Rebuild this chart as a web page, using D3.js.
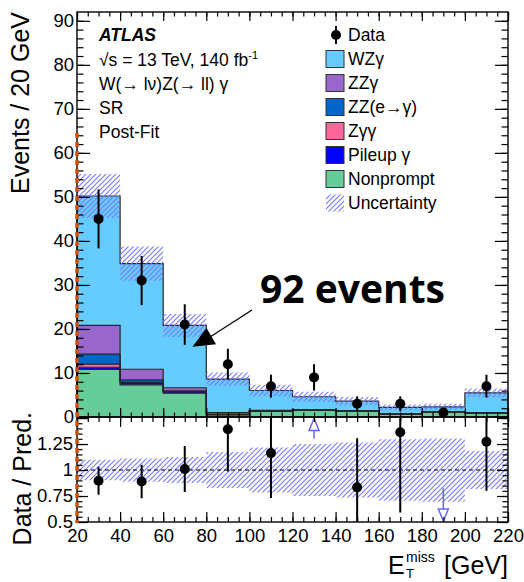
<!DOCTYPE html>
<html>
<head>
<meta charset="utf-8">
<script src="https://cdn.jsdelivr.net/npm/d3@7"></script>
<style>
  body { margin: 0; background: #ffffff; }
  svg { display: block; font-family: "Liberation Sans", Arial, sans-serif; }
</style>
</head>
<body>
<svg id="chart" width="524" height="582"></svg>
<script>
// bins of E_T^miss [GeV]
const binEdges = [20, 40, 60, 80, 100, 120, 140, 160, 180, 200, 220];

// post-fit predictions per bin (events)
const nonprompt = [10.8, 7.3, 5.4, 0.45, 1.3, 1.55, 1.35, 0.6, 1.15, 0.9];
const pileup    = [0.5, 0.5, 0.3, 0.1, 0.05, 0.02, 0.02, 0.02, 0.02, 0.02];
const zgg       = [0.7, 0.05, 0.05, 0.02, 0.02, 0.02, 0.01, 0.01, 0.01, 0.01];
const zze       = [2.3, 0.6, 0.2, 0.1, 0.05, 0.03, 0.03, 0.03, 0.03, 0.03];
const zzg       = [6.5, 2.4, 0.7, 0.35, 0.1, 0.08, 0.05, 0.04, 0.04, 0.04];
const wzg       = [29.4, 24.0, 14.15, 7.6, 4.5, 2.9, 2.14, 1.5, 1.05, 4.5];
const uncertainty = [5, 3.9, 2.6, 1.5, 1.3, 1.15, 0.95, 0.65, 0.7, 1.0];

// observed data
const dataCounts = [45, 31, 21, 12, 7, 9, 3, 3, 1, 7];
const dataErrors = [6.7, 5.6, 4.6, 3.5, 2.6, 3.0, 1.7, 1.7, 0.9, 2.6];

const stackKeys = ["Nonprompt", "Pileup γ", "Zγγ", "ZZ(e→γ)", "ZZγ", "WZγ"];
const legendKeys = ["WZγ", "ZZγ", "ZZ(e→γ)", "Zγγ", "Pileup γ", "Nonprompt"];
const colors = {
    "WZγ": "#66ccff",
    "ZZγ": "#9966cc",
    "ZZ(e→γ)": "#0066cc",
    "Zγγ": "#ff6699",
    "Pileup γ": "#0000ff",
    "Nonprompt": "#66cc99"
};

const xTicks = d3.range(20, 221, 20);
const yTicks = d3.range(0, 91, 10);
const ratioTicks = [0.5, 0.75, 1, 1.25];

const svg = d3.select("#chart");
const mainTop = 12, mainBottom = 417, ratioBottom = 522;
const left = 77, right = 508;

const x = d3.scaleLinear().domain([20, 220]).range([left, right]);
const y = d3.scaleLinear().domain([0, 92]).range([mainBottom, mainTop]);
const yr = d3.scaleLinear().domain([0.5, 1.51]).range([ratioBottom, mainBottom]);

const rows = binEdges.slice(0, -1).map((lo, i) => ({
    lo, hi: binEdges[i + 1],
    "Nonprompt": nonprompt[i],
    "Pileup γ": pileup[i],
    "Zγγ": zgg[i],
    "ZZ(e→γ)": zze[i],
    "ZZγ": zzg[i],
    "WZγ": wzg[i]
}));
const totals = rows.map(r => d3.sum(stackKeys, k => r[k]));
const stacked = d3.stack().keys(stackKeys)(rows);

const defs = svg.append("defs");
defs.append("pattern")
    .attr("id", "hatch")
    .attr("patternUnits", "userSpaceOnUse")
    .attr("width", 5)
    .attr("height", 5)
    .append("path")
    .attr("d", "M-1,1 l2,-2 M0,5 l5,-5 M4,6 l2,-2")
    .attr("stroke", "#7878ff")
    .attr("stroke-width", 1.1);
defs.append("clipPath").attr("id", "ratioClip")
    .append("rect")
    .attr("x", left).attr("y", mainBottom)
    .attr("width", right - left).attr("height", ratioBottom - mainBottom);

// step helpers
function stepPoints(lowFn, highFn) {
    const pts = rows.map((r, i) => ({ x: r.lo, y0: lowFn(i), y1: highFn(i) }));
    const last = pts[pts.length - 1];
    pts.push({ x: 220, y0: last.y0, y1: last.y1 });
    return pts;
}

const stepArea = (ys) => d3.area()
    .curve(d3.curveStepAfter)
    .x(d => x(d.x))
    .y0(d => ys(d.y0))
    .y1(d => ys(d.y1));

// stacked histograms
const mainGroup = svg.append("g");
stacked.forEach(layer => {
    const pts = stepPoints(i => layer[i][0], i => layer[i][1]);
    mainGroup.append("path")
        .attr("d", stepArea(y)(pts))
        .attr("fill", colors[layer.key]);
});
stacked.forEach(layer => {
    const pts = [{ x: 20, y: 0 }]
        .concat(rows.map((r, i) => ({ x: r.lo, y: layer[i][1] })))
        .concat([{ x: 220, y: layer[layer.length - 1][1] }, { x: 220, y: 0 }]);
    mainGroup.append("path")
        .attr("d", d3.line().curve(d3.curveStepAfter).x(d => x(d.x)).y(d => y(d.y))(pts))
        .attr("fill", "none")
        .attr("stroke", "#262626")
        .attr("stroke-width", 1.2);
});

// uncertainty band
mainGroup.append("path")
    .attr("d", stepArea(y)(stepPoints(i => totals[i] - uncertainty[i], i => totals[i] + uncertainty[i])))
    .attr("fill", "url(#hatch)");

// data points
const mids = rows.map(r => (r.lo + r.hi) / 2);
mainGroup.selectAll(".err")
    .data(dataCounts)
    .join("line")
    .attr("x1", (d, i) => x(mids[i]))
    .attr("x2", (d, i) => x(mids[i]))
    .attr("y1", (d, i) => y(Math.max(0, d - dataErrors[i])))
    .attr("y2", (d, i) => y(d + dataErrors[i]))
    .attr("stroke", "#000")
    .attr("stroke-width", 2);
mainGroup.selectAll(".pt")
    .data(dataCounts)
    .join("circle")
    .attr("cx", (d, i) => x(mids[i]))
    .attr("cy", d => y(d))
    .attr("r", 5)
    .attr("fill", "#000");

// ratio panel
const ratioGroup = svg.append("g").attr("clip-path", "url(#ratioClip)");
ratioGroup.append("path")
    .attr("d", stepArea(yr)(stepPoints(i => 1 - uncertainty[i] / totals[i], i => 1 + uncertainty[i] / totals[i])))
    .attr("fill", "url(#hatch)");
ratioGroup.append("line")
    .attr("x1", left).attr("x2", right)
    .attr("y1", yr(1)).attr("y2", yr(1))
    .attr("stroke", "#000")
    .attr("stroke-width", 1.2)
    .attr("stroke-dasharray", "4,3");

const ratios = dataCounts.map((d, i) => ({
    mid: mids[i],
    r: d / totals[i],
    lo: (d - dataErrors[i]) / totals[i],
    hi: (d + dataErrors[i]) / totals[i]
}));
const inRange = ratios.filter(d => d.r >= 0.5 && d.r <= 1.51);
ratioGroup.selectAll(".rerr")
    .data(inRange)
    .join("line")
    .attr("x1", d => x(d.mid)).attr("x2", d => x(d.mid))
    .attr("y1", d => yr(d.lo)).attr("y2", d => yr(d.hi))
    .attr("stroke", "#000")
    .attr("stroke-width", 2);
ratioGroup.selectAll(".rpt")
    .data(inRange)
    .join("circle")
    .attr("cx", d => x(d.mid))
    .attr("cy", d => yr(d.r))
    .attr("r", 5)
    .attr("fill", "#000");

// out-of-range arrows
ratios.filter(d => d.r > 1.51).forEach(d => {
    const cx = x(d.mid), tip = mainBottom + 1.5, base = tip + 12;
    ratioGroup.append("line").attr("x1", cx).attr("x2", cx).attr("y1", yr(d.lo)).attr("y2", base)
        .attr("stroke", "#6666ff").attr("stroke-width", 1.5);
    ratioGroup.append("path").attr("d", `M${cx},${tip}L${cx - 5},${base}L${cx + 5},${base}Z`)
        .attr("fill", "#fff").attr("stroke", "#6666ff").attr("stroke-width", 1.5);
});
ratios.filter(d => d.r < 0.5).forEach(d => {
    const cx = x(d.mid), tip = ratioBottom - 1, base = tip - 12;
    ratioGroup.append("line").attr("x1", cx).attr("x2", cx).attr("y1", yr(d.hi)).attr("y2", base)
        .attr("stroke", "#6666ff").attr("stroke-width", 1.5);
    ratioGroup.append("path").attr("d", `M${cx},${tip}L${cx - 5},${base}L${cx + 5},${base}Z`)
        .attr("fill", "#fff").attr("stroke", "#6666ff").attr("stroke-width", 1.5);
});

// frames
[[mainTop, mainBottom], [mainBottom, ratioBottom]].forEach(([t, b]) => {
    svg.append("rect")
        .attr("x", left).attr("y", t)
        .attr("width", right - left).attr("height", b - t)
        .attr("fill", "none")
        .attr("stroke", "#000")
        .attr("stroke-width", 1.4);
});

// ticks
function tickGroup(axis, tx, ty) {
    svg.append("g")
        .attr("transform", `translate(${tx},${ty})`)
        .call(axis)
        .call(g => g.select(".domain").remove())
        .call(g => g.selectAll("line").attr("stroke-width", 1.2));
}
const minorX = d3.range(20, 221, 5);
tickGroup(d3.axisBottom(x).tickValues(xTicks).tickSize(-9).tickFormat(""), 0, mainBottom);
tickGroup(d3.axisBottom(x).tickValues(minorX).tickSize(-4.5).tickFormat(""), 0, mainBottom);
tickGroup(d3.axisTop(x).tickValues(xTicks).tickSize(-9).tickFormat(""), 0, mainTop);
tickGroup(d3.axisTop(x).tickValues(minorX).tickSize(-4.5).tickFormat(""), 0, mainTop);
tickGroup(d3.axisBottom(x).tickValues(xTicks).tickSize(-10).tickFormat(""), 0, ratioBottom);
tickGroup(d3.axisBottom(x).tickValues(minorX).tickSize(-5).tickFormat(""), 0, ratioBottom);
tickGroup(d3.axisTop(x).tickValues(xTicks).tickSize(-10).tickFormat(""), 0, mainBottom);
tickGroup(d3.axisTop(x).tickValues(minorX).tickSize(-5).tickFormat(""), 0, mainBottom);

const minorY = d3.range(0, 92, 2);
tickGroup(d3.axisLeft(y).tickValues(yTicks).tickSize(-13).tickFormat(""), left, 0);
tickGroup(d3.axisLeft(y).tickValues(minorY).tickSize(-6.5).tickFormat(""), left, 0);
tickGroup(d3.axisRight(y).tickValues(yTicks).tickSize(-13).tickFormat(""), right, 0);
tickGroup(d3.axisRight(y).tickValues(minorY).tickSize(-6.5).tickFormat(""), right, 0);

const minorR = d3.range(0.5, 1.51, 0.05);
tickGroup(d3.axisLeft(yr).tickValues([0.5, 0.75, 1, 1.25, 1.5]).tickSize(-11).tickFormat(""), left, 0);
tickGroup(d3.axisLeft(yr).tickValues(minorR).tickSize(-5.5).tickFormat(""), left, 0);
tickGroup(d3.axisRight(yr).tickValues([0.5, 0.75, 1, 1.25, 1.5]).tickSize(-11).tickFormat(""), right, 0);
tickGroup(d3.axisRight(yr).tickValues(minorR).tickSize(-5.5).tickFormat(""), right, 0);

// tick labels
function labelGroup(axis, tx, ty) {
    svg.append("g")
        .attr("transform", `translate(${tx},${ty})`)
        .call(axis)
        .call(g => g.select(".domain").remove())
        .call(g => g.selectAll("line").remove())
        .call(g => g.selectAll("text").attr("fill", "#000").attr("font-size", "18.5px")
            .attr("font-family", "Liberation Sans, Arial, sans-serif"));
}
labelGroup(d3.axisLeft(y).tickValues(yTicks).tickSize(0).tickPadding(3), left, 0);
labelGroup(d3.axisLeft(yr).tickValues(ratioTicks).tickSize(0).tickPadding(4).tickFormat(d => d), left, 0);
labelGroup(d3.axisBottom(x).tickValues(xTicks).tickSize(0).tickPadding(7), 0, ratioBottom);

// axis titles
svg.append("text")
    .attr("transform", "translate(29,12) rotate(-90)")
    .attr("text-anchor", "end")
    .attr("font-size", "25px")
    .text("Events / 20 GeV");
svg.append("text")
    .attr("transform", "translate(31,412) rotate(-90)")
    .attr("text-anchor", "end")
    .attr("font-size", "25px")
    .text("Data / Pred.");
const xTitle = svg.append("g").attr("font-size", "25px");
xTitle.append("text").attr("x", 388).attr("y", 574).text("E");
xTitle.append("text").attr("x", 406).attr("y", 562).attr("font-size", "14px").text("miss");
xTitle.append("text").attr("x", 406).attr("y", 578).attr("font-size", "13px").text("T");
xTitle.append("text").attr("x", 508).attr("y", 574).attr("text-anchor", "end").text("[GeV]");

// ATLAS label block
const info = svg.append("g").attr("font-size", "17.5px").attr("fill", "#000");
info.append("text").attr("x", 99).attr("y", 41)
    .attr("font-weight", "bold").attr("font-style", "italic").text("ATLAS");
const rs = info.append("text").attr("x", 99).attr("y", 66);
rs.append("tspan").text("√s = 13 TeV, 140 fb");
rs.append("tspan").attr("dy", -7).attr("font-size", "11px").text("-1");
info.append("text").attr("x", 99).attr("y", 90).text("W(→ lν)Z(→ ll) γ");
info.append("text").attr("x", 99).attr("y", 114).text("SR");
info.append("text").attr("x", 99).attr("y", 138).text("Post-Fit");

// legend
const legend = svg.append("g").attr("font-size", "17.5px");
const rowY = i => 35 + i * 24;
legend.append("line").attr("x1", 336).attr("x2", 336).attr("y1", rowY(0) - 9).attr("y2", rowY(0) + 9)
    .attr("stroke", "#000").attr("stroke-width", 2);
legend.append("circle").attr("cx", 336).attr("cy", rowY(0)).attr("r", 5).attr("fill", "#000");
legend.append("text").attr("x", 348).attr("y", rowY(0)).attr("dy", "0.35em").text("Data");
legendKeys.forEach((k, j) => {
    const i = j + 1;
    legend.append("rect")
        .attr("x", 326).attr("y", rowY(i) - 8.5)
        .attr("width", 18).attr("height", 17)
        .attr("fill", colors[k])
        .attr("stroke", "#333")
        .attr("stroke-width", 1);
    legend.append("text").attr("x", 348).attr("y", rowY(i)).attr("dy", "0.35em").text(k);
});
legend.append("rect")
    .attr("x", 326).attr("y", rowY(7) - 8.5)
    .attr("width", 18).attr("height", 17)
    .attr("fill", "url(#hatch)");
legend.append("text").attr("x", 348).attr("y", rowY(7)).attr("dy", "0.35em").text("Uncertainty");

// annotation
svg.append("line")
    .attr("x1", 252).attr("y1", 310)
    .attr("x2", 210).attr("y2", 337)
    .attr("stroke", "#000").attr("stroke-width", 1.3);
svg.append("path")
    .attr("d", "M206.5,328L192.5,346.7L216,344.3Z")
    .attr("fill", "#000");
svg.append("text")
    .attr("x", 260).attr("y", 303)
    .attr("font-family", "Open Sans, sans-serif")
    .attr("font-weight", "bold")
    .attr("font-size", "39px")
    .text("92 events");

// orange dashes along the left frame
svg.append("line")
    .attr("x1", left).attr("x2", left)
    .attr("y1", 133).attr("y2", 523)
    .attr("stroke", "#c9510c")
    .attr("stroke-width", 3.5)
    .attr("stroke-dasharray", "5,4");
</script>
</body>
</html>
